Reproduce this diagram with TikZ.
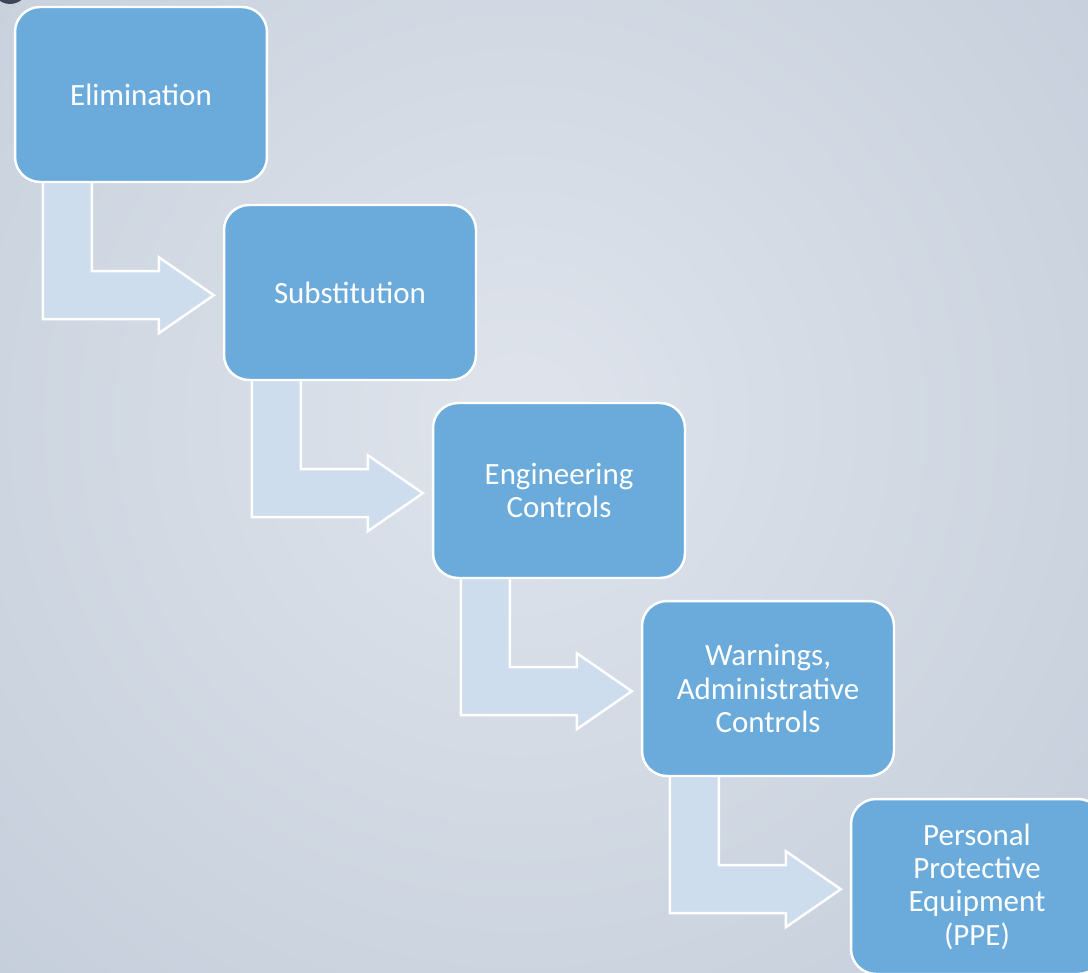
\documentclass[tikz,border=0pt]{standalone}
\usepackage{fontspec}
\setmainfont{Carlito}
\usetikzlibrary{backgrounds}

\definecolor{boxblue}{HTML}{6AABDB}
\definecolor{arrowblue}{HTML}{CDDDED}
\definecolor{bgin}{HTML}{DFE4EC}
\definecolor{bgout}{HTML}{B6C2D1}
\definecolor{knob}{HTML}{3C4658}

\begin{document}
\begin{tikzpicture}[x = 0.02cm, y = -0.02cm,
  step box/.style = {fill=boxblue,draw=white,line width=1.4pt,rounded corners=0.5cm,
    minimum width=5.04cm,minimum height=3.5cm,align=center,text=white,
    font=\fontsize{17.6}{19}\selectfont},
  bent arrow/.style = {fill=arrowblue,draw=white,line width=1.4pt},]

\useasboundingbox (0,0) rectangle (1088,973);

\node[step box] (A) at (141,94.5) {Elimination};
\node[step box] (B) at (350,292.5) {Substitution};
\node[step box] (C) at (559,490.5) {Engineering\\Controls};
\node[step box] (D) at (768,688.5) {Warnings,\\Administrative\\Controls};
\node[step box] (E) at (977,886.5) {Personal\\Protective\\Equipment\\(PPE)};

\begin{scope}[on background layer]
  \clip (0,0) rectangle (1088,973);
  \fill[inner color=bgin, outer color=bgout] (520,420) circle (1200);
  \fill[knob] (10,-14) circle (18);
  % bent arrows from each box down and over to the next
  \foreach \n in {A,B,C,D}
    \draw[bent arrow, shift={(\n.south west)}]
      (29,-6) -- (29,136) -- (145,136) -- (145,150) -- (200,112)
      -- (145,74) -- (145,88) -- (78,88) -- (78,-6) -- cycle;
\end{scope}

\end{tikzpicture}
\end{document}
